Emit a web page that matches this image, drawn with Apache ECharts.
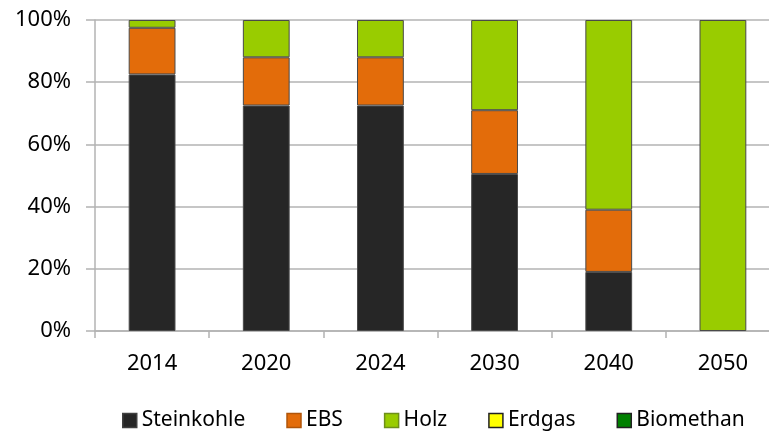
<!DOCTYPE html>
<html>
<head>
<meta charset="utf-8">
<script src="https://cdn.jsdelivr.net/npm/echarts@6/dist/echarts.min.js"></script>
<style>
html,body{margin:0;padding:0;background:#fff;}
#chart{width:769px;height:432px;}
</style>
</head>
<body>
<div id="chart"></div>
<script>
// Jahre
var years = ['2014', '2020', '2024', '2030', '2040', '2050'];
// Anteile in %
var steinkohle = [82.5, 72.5, 72.5, 50.5, 19, 0];
var ebs = [15, 15.5, 15.5, 20.5, 20, 0];
var holz = [2.5, 12, 12, 29, 61, 100];
var erdgas = [0, 0, 0, 0, 0, 0];
var biomethan = [0, 0, 0, 0, 0, 0];
var yTicks = [0, 20, 40, 60, 80, 100];

var names = ['Steinkohle', 'EBS', 'Holz', 'Erdgas', 'Biomethan'];
var colors = ['#262626', '#E36C0A', '#99CC00', '#FFFF00', '#008000'];
var borders = ['#404040', '#B0550A', '#6E8F1A', '#222222', '#222222'];
var values = [steinkohle, ebs, holz, erdgas, biomethan];

var font = 'Noto Sans';

function mkSeries(i){
	return {
		name: names[i],
		type: 'bar',
		stack: 'a',
		barWidth: '41%',
		itemStyle: {
			color: colors[i],
			borderColor: '#4a4a4a',
			borderWidth: 1
		},
		// 0 nicht zeichnen
		data: values[i].map(function(v){ return v === 0 ? '-' : v; })
	};
}

var chartDom = document.getElementById('chart');
var myChart = echarts.init(chartDom);
var option = {
	animation: false,
	grid: {
		left: 95,
		width: 685,
		top: 20,
		height: 311,
		outerBoundsMode: 'none'
	},
	legend: {
		top: 405,
		left: 117,
		itemWidth: 14,
		itemHeight: 14,
		itemGap: 41,
		textStyle: { fontFamily: font, fontSize: 21, color: '#000' },
		data: names.map(function(n, i){
			return { name: n, icon: 'rect', itemStyle: { color: colors[i], borderColor: borders[i], borderWidth: 1.5 } };
		})
	},
	xAxis: {
		type: 'category',
		data: years,
		axisLine: { lineStyle: { color: '#b3b3b3', width: 1.5 } },
		axisTick: { show: true, length: 7, lineStyle: { color: '#b3b3b3', width: 1.5 } },
		axisLabel: { fontFamily: font, fontSize: 22, color: '#000', margin: 22 }
	},
	yAxis: {
		type: 'value',
		min: yTicks[0],
		max: yTicks[yTicks.length - 1],
		interval: yTicks[1] - yTicks[0],
		axisLine: { show: true, lineStyle: { color: '#b3b3b3', width: 1.5 } },
		axisTick: { show: true, length: 9, lineStyle: { color: '#b3b3b3', width: 1.5 } },
		splitLine: { lineStyle: { color: '#b3b3b3', width: 1.5 } },
		axisLabel: { fontFamily: font, fontSize: 22, color: '#000', margin: 24, formatter: '{value}%' }
	},
	series: [0, 1, 2, 3, 4].map(mkSeries)
};
myChart.setOption(option);
</script>
</body>
</html>
